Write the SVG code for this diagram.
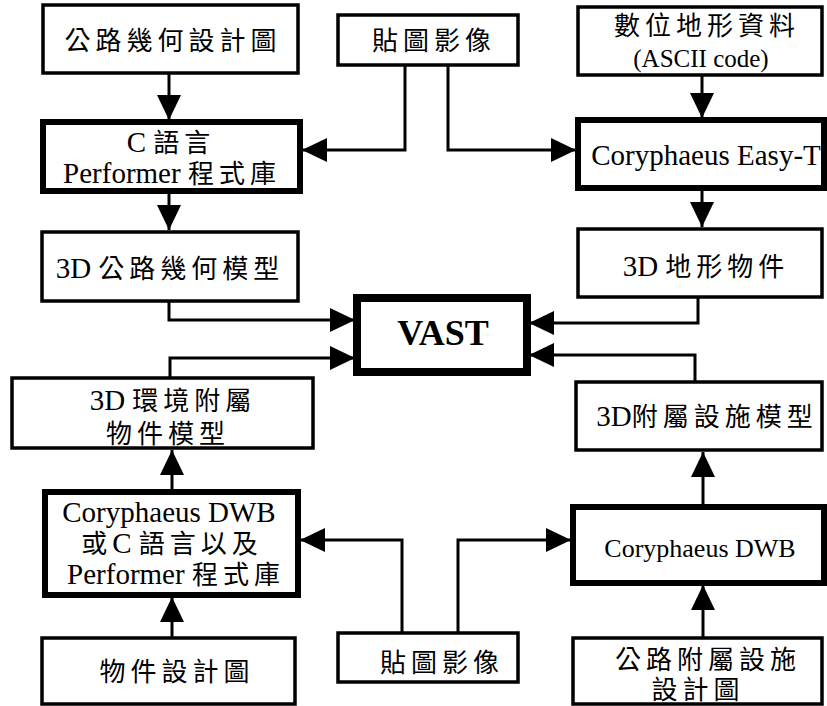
<svg xmlns="http://www.w3.org/2000/svg" width="827" height="706" viewBox="0 0 827 706">
<defs>
<marker id="ah" viewBox="0 0 25 24" refX="25" refY="12" markerWidth="25" markerHeight="24" markerUnits="userSpaceOnUse" orient="auto">
<path d="M0,0 L25,12 L0,24 Z" fill="#000"/>
</marker>
<style>
.b{fill:#fff;stroke:#000;stroke-width:3.5}
.bt{fill:#fff;stroke:#000;stroke-width:6}
.bv{fill:#fff;stroke:#000;stroke-width:8}
.c{fill:none;stroke:#000;stroke-width:3;marker-end:url(#ah)}
text{font-family:"Liberation Serif","Noto Sans CJK TC",serif;fill:#000;text-anchor:middle}
.k{font-size:26px;letter-spacing:5px}
.l{font-size:29px}
</style>
</defs>
<rect width="827" height="706" fill="#fff"/>
<g id="connectors">
<path class="c" d="M169,73 V120"/>
<path class="c" d="M169,191 V230"/>
<path class="c" d="M405,65 V150 H302"/>
<path class="c" d="M448,65 V150 H576"/>
<path class="c" d="M702,75 V118"/>
<path class="c" d="M702,188 V227"/>
<path class="c" d="M169,301 V320 H355"/>
<path class="c" d="M170,378 V358 H355"/>
<path class="c" d="M698,297 V323 H529"/>
<path class="c" d="M695,382 V355 H529"/>
<path class="c" d="M172,492 V450"/>
<path class="c" d="M172,638 V597"/>
<path class="c" d="M402,633 V540 H300"/>
<path class="c" d="M458,633 V540 H571"/>
<path class="c" d="M703,507 V452"/>
<path class="c" d="M703,638 V585"/>
</g>
<g id="n1"><rect class="b" x="43" y="5" width="255" height="68"/><text class="k" x="173" y="50">公路幾何設計圖</text></g>
<g id="n2"><rect class="b" x="338" y="15" width="180" height="50"/><text class="k" x="434" y="50">貼圖影像</text></g>
<g id="n3"><rect class="b" x="578" y="7" width="244" height="68"/><text class="k" x="707" y="35">數位地形資料</text><text x="701" y="67" style="font-size:25px">(ASCII code)</text></g>
<g id="n4"><rect class="bt" x="43" y="122" width="257" height="69"/><text class="l" x="171" y="152">C <tspan class="k">語言</tspan></text><text class="l" x="172" y="183">Performer <tspan class="k">程式庫</tspan></text></g>
<g id="n5"><rect class="bt" x="578" y="120" width="246" height="68"/><text class="l" x="706" y="165">Coryphaeus Easy-T</text></g>
<g id="n6"><rect class="b" x="42" y="232" width="256" height="69"/><text class="l" x="170" y="278">3D <tspan class="k">公路幾何模型</tspan></text></g>
<g id="n7"><rect class="b" x="578" y="229" width="244" height="68"/><text class="l" x="706" y="276">3D <tspan class="k">地形物件</tspan></text></g>
<g id="n8"><rect class="bv" x="357" y="298" width="170" height="74"/><text x="443" y="345" style="font-size:36px;font-weight:bold">VAST</text></g>
<g id="n9"><rect class="b" x="12" y="378" width="301" height="70"/><text class="l" x="173" y="410">3D <tspan class="k">環境附屬</tspan></text><text class="k" x="168" y="443">物件模型</text></g>
<g id="n10"><rect class="b" x="576" y="382" width="246" height="68"/><text class="l" x="707" y="426">3D<tspan class="k">附屬設施模型</tspan></text></g>
<g id="n11"><rect class="bt" x="45" y="492" width="253" height="103"/><text class="l" x="169" y="522">Coryphaeus DWB</text><text class="l" x="172" y="553"><tspan class="k">或</tspan>C <tspan class="k">語言以及</tspan></text><text class="l" x="176" y="584">Performer <tspan class="k">程式庫</tspan></text></g>
<g id="n12"><rect class="bt" x="573" y="507" width="251" height="76"/><text x="700" y="557" style="font-size:26px">Coryphaeus DWB</text></g>
<g id="n13"><rect class="b" x="42" y="638" width="253" height="66"/><text class="k" x="177" y="681">物件設計圖</text></g>
<g id="n14"><rect class="b" x="338" y="633" width="180" height="49"/><text class="k" x="442" y="672">貼圖影像</text></g>
<g id="n15"><rect class="b" x="573" y="638" width="249" height="66"/><text class="k" x="708" y="669">公路附屬設施</text><text class="k" x="698" y="699">設計圖</text></g>
</svg>
